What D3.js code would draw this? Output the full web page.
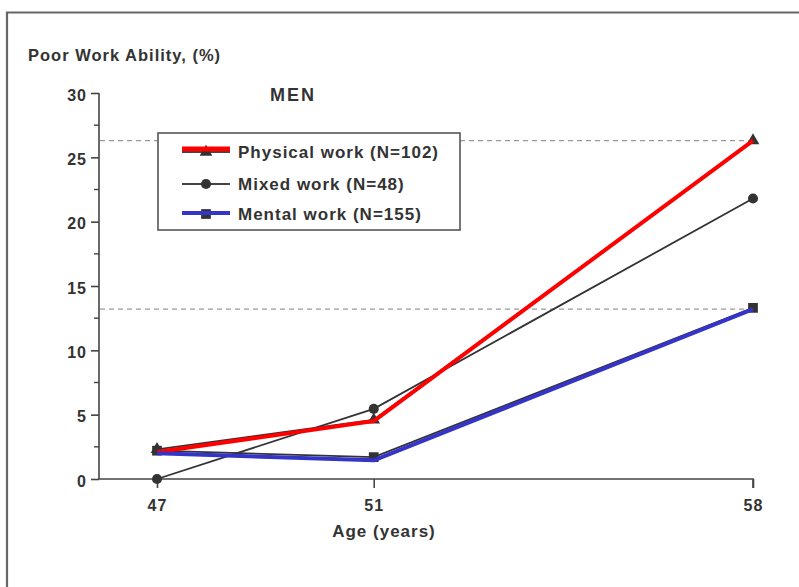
<!DOCTYPE html>
<html>
<head>
<meta charset="utf-8">
<script src="https://cdn.jsdelivr.net/npm/d3@7"></script>
<style>
html,body{margin:0;padding:0;background:#fff;}
svg{display:block;}
text{font-family:"Liberation Sans",Arial,sans-serif;font-weight:bold;fill:#333;}
</style>
</head>
<body>
<svg id="chart" width="799" height="587"></svg>
<script>
// ---- data ----
const ages = [47, 51, 58];
const physical = [2.3, 4.6, 26.3];
const mixed = [0, 5.45, 21.8];
const mental = [2.2, 1.7, 13.3];
const physicalHighlight = [2.1, 4.5, 26.3];
const mentalHighlight = [2.0, 1.45, 13.2];
const yTicks = [0, 5, 10, 15, 20, 25, 30];
const yMinorTicks = [2.5, 7.5, 12.5, 17.5, 22.5, 27.5];
const referenceLines = [26.3, 13.2];
const legendLabels = ["Physical work (N=102)", "Mixed work (N=48)", "Mental work (N=155)"];

const svg = d3.select("#chart");
const x = d3.scaleLinear().domain([47, 58]).range([157, 753]);
const y = d3.scaleLinear().domain([0, 30]).range([479, 93]);

// frame
svg.append("path").attr("d", "M7,587 L7,12.5 L799,12.5")
  .attr("fill", "none").attr("stroke", "#666").attr("stroke-width", 2.2);

// reference dashed lines
svg.selectAll(".ref").data(referenceLines).join("line")
  .attr("x1", 100).attr("x2", x(58))
  .attr("y1", d => y(d)).attr("y2", d => y(d))
  .attr("stroke", "#999").attr("stroke-width", 1.2).attr("stroke-dasharray", "5,4");

// y axis
const yAxis = d3.axisLeft(y).tickValues(yTicks).tickSize(8).tickPadding(4).tickFormat(d3.format("d"));
const gy = svg.append("g").attr("transform", "translate(99,0)").call(yAxis);
gy.select(".domain").attr("stroke", "#444").attr("stroke-width", 1.6).attr("d", `M0,${y(30)}V${y(0)}`);
gy.selectAll(".tick line").attr("stroke", "#444").attr("stroke-width", 1.6);
gy.selectAll(".tick text").attr("font-size", 16).attr("letter-spacing", 1).attr("fill", "#333")
  .attr("dy", "0.45em").attr("font-family", "Liberation Sans, Arial, sans-serif").attr("font-weight", "bold");
gy.selectAll(".minor").data(yMinorTicks).join("line").attr("class", "minor")
  .attr("x1", -5).attr("x2", 0).attr("y1", d => y(d)).attr("y2", d => y(d))
  .attr("stroke", "#444").attr("stroke-width", 1.4);

// x axis
const xAxis = d3.axisBottom(x).tickValues(ages).tickSize(9).tickPadding(12).tickFormat(d3.format("d"));
const gx = svg.append("g").attr("transform", `translate(0,${y(0)})`).call(xAxis);
gx.select(".domain").attr("stroke", "#444").attr("stroke-width", 1.6).attr("d", `M99,0H${x(58)}V9`);
gx.selectAll(".tick line").attr("stroke", "#444").attr("stroke-width", 1.6);
gx.selectAll(".tick text").attr("font-size", 16).attr("letter-spacing", 1).attr("fill", "#333")
  .attr("font-family", "Liberation Sans, Arial, sans-serif").attr("font-weight", "bold");

// titles
svg.append("text").attr("x", 28).attr("y", 61).attr("font-size", 16.5).attr("letter-spacing", 1)
  .text("Poor Work Ability, (%)");
svg.append("text").attr("x", 270).attr("y", 101).attr("font-size", 18).attr("letter-spacing", 2)
  .text("MEN");
svg.append("text").attr("x", 384).attr("y", 537).attr("text-anchor", "middle").attr("font-size", 17).attr("letter-spacing", 1)
  .text("Age (years)");

// lines
const line = vals => d3.line().x((d, i) => x(ages[i])).y(d => y(d))(vals);
[physical, mixed, mental].forEach(vals => {
  svg.append("path").attr("d", line(vals)).attr("fill", "none")
    .attr("stroke", "#333").attr("stroke-width", 1.8);
});

// markers
const tri = d3.symbol().type(d3.symbolTriangle).size(70);
const circ = d3.symbol().type(d3.symbolCircle).size(80);
const sq = d3.symbol().type(d3.symbolSquare).size(95);
svg.selectAll(".m1").data(physical).join("path")
  .attr("transform", (d, i) => `translate(${x(ages[i])},${y(d)})`).attr("d", tri).attr("fill", "#333");
svg.selectAll(".m2").data(mixed).join("path")
  .attr("transform", (d, i) => `translate(${x(ages[i])},${y(d)})`).attr("d", circ).attr("fill", "#333");
svg.selectAll(".m3").data(mental).join("path")
  .attr("transform", (d, i) => `translate(${x(ages[i])},${y(d)})`).attr("d", sq).attr("fill", "#333");

// colored highlights
svg.append("path").attr("d", line(physicalHighlight)).attr("fill", "none")
  .attr("stroke", "#ff0000").attr("stroke-width", 4).attr("stroke-linejoin", "round");
svg.append("path").attr("d", line(mentalHighlight)).attr("fill", "none")
  .attr("stroke", "#3434c8").attr("stroke-width", 4).attr("stroke-linejoin", "round");

// legend
const lg = svg.append("g");
lg.append("rect").attr("x", 158).attr("y", 133).attr("width", 302).attr("height", 97)
  .attr("fill", "#fff").attr("stroke", "#555").attr("stroke-width", 1.6);
const rowsY = [152, 184, 214];
const symbols = [tri, circ, sq];
legendLabels.forEach((lab, i) => {
  lg.append("line").attr("x1", 182).attr("x2", 230).attr("y1", rowsY[i]).attr("y2", rowsY[i])
    .attr("stroke", "#444").attr("stroke-width", 1.8);
  lg.append("path").attr("transform", `translate(206,${rowsY[i]})`).attr("d", symbols[i]).attr("fill", "#333");
  lg.append("text").attr("x", 238).attr("y", rowsY[i] + 6).attr("font-size", 17).attr("letter-spacing", 1)
    .text(lab);
});
lg.append("line").attr("x1", 182).attr("x2", 230).attr("y1", 149).attr("y2", 149)
  .attr("stroke", "#ff0000").attr("stroke-width", 5);
lg.append("line").attr("x1", 182).attr("x2", 230).attr("y1", 213).attr("y2", 213)
  .attr("stroke", "#3434c8").attr("stroke-width", 4);
</script>
</body>
</html>
